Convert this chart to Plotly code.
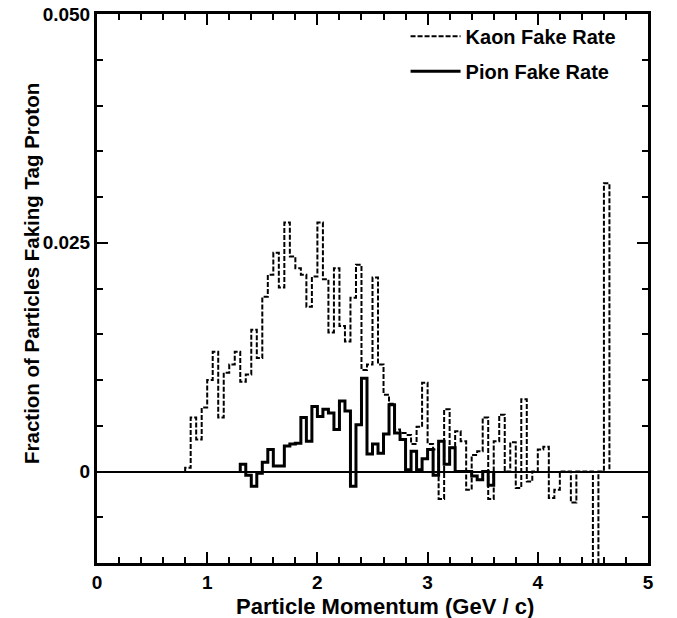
import plotly.graph_objects as go

# Histogram binning (GeV/c)
bin_width = 0.05

# Kaon fake rate: first bin starts at 0.80 GeV/c
kaon_start = 0.80
kaon_vals = [
    0.0004, 0.0059, 0.0035, 0.0070, 0.0100, 0.0131, 0.0059, 0.0108, 0.0117, 0.0131,
    0.0098, 0.0106, 0.0155, 0.0124, 0.0191, 0.0215, 0.0239, 0.0201, 0.0272, 0.0235,
    0.0222, 0.0215, 0.0180, 0.0213, 0.0272, 0.0210, 0.0152, 0.0222, 0.0159, 0.0142,
    0.0190, 0.0226, 0.0111, 0.0117, 0.0212, 0.0117, 0.0084, 0.0074, 0.0046, 0.0042,
    0.0040, 0.0030, 0.0049, 0.0097, 0.0030, 0.0024, -0.0030, 0.0068, 0.0026, 0.0044,
    0.0033, -0.0020, 0.0018, 0.0022, 0.0059, -0.0030, 0.0033, 0.0062, 0.0000, 0.0032,
    -0.0018, 0.0079, -0.0011, 0.0000, 0.0024, 0.0027, -0.0029, -0.0020, 0.0000, 0.0000,
    -0.0034, 0.0000, 0.0000, 0.0000, -0.0160, 0.0000, 0.0315,
]

# Pion fake rate: first bin starts at 1.30 GeV/c
pion_start = 1.30
pion_vals = [
    0.0008, -0.0004, -0.0016, -0.0002, 0.0010, 0.0024, 0.0006, 0.0006, 0.0028, 0.0030,
    0.0031, 0.0059, 0.0033, 0.0071, 0.0060, 0.0068, 0.0064, 0.0046, 0.0077, 0.0066,
    -0.0016, 0.0051, 0.0102, 0.0019, 0.0030, 0.0020, 0.0041, 0.0073, 0.0042, 0.0035,
    0.0002, 0.0022, 0.0002, 0.0014, 0.0024, -0.0004, 0.0033, 0.0008, 0.0026, 0.0000,
    0.0000, 0.0000, -0.0005, -0.0009, 0.0000, -0.0015,
]

x_tick_vals = [0, 1, 2, 3, 4, 5]
y_tick_vals = [0.0, 0.025, 0.05]
y_tick_text = ["0", "0.025", "0.050"]
x_title = "Particle Momentum (GeV / c)"
y_title = "Fraction of Particles Faking Tag Proton"


def step_xy(start, vals):
    edges = [round(start + i * bin_width, 4) for i in range(len(vals) + 1)]
    xs = [edges[0]] + edges[:-1] + [edges[-1]]
    ys = [0.0] + list(vals) + [0.0]
    return xs, ys


FONT = "Liberation Sans"

fig = go.Figure()
kx, ky = step_xy(kaon_start, kaon_vals)
px, py = step_xy(pion_start, pion_vals)

fig.add_trace(go.Scatter(
    x=kx, y=ky, mode="lines", line_shape="hv", name="Kaon Fake Rate",
    legendgroup="k",
    line=dict(color="black", width=2, dash="5px,2px"),
))
fig.add_trace(go.Scatter(
    x=px, y=py, mode="lines", line_shape="hv", name="Pion Fake Rate",
    legendgroup="p",
    line=dict(color="black", width=3),
))

fig.update_layout(
    width=677, height=618,
    margin=dict(l=97, r=29, t=14, b=55, autoexpand=False),
    paper_bgcolor="white", plot_bgcolor="white",
    font=dict(family=FONT, size=18, color="black", weight="bold"),
    showlegend=True,
    legend=dict(
        x=0.56, y=0.995, xanchor="left", yanchor="top",
        bgcolor="rgba(0,0,0,0)", borderwidth=0,
        font=dict(family=FONT, size=20, color="black", weight="bold"),
        tracegroupgap=6, traceorder="grouped", itemwidth=50,
    ),
    annotations=[
        dict(text=x_title, xref="paper", yref="paper",
             x=(385 - 97) / 551, y=-(606 - 563) / 549,
             xanchor="center", yanchor="middle", showarrow=False, borderpad=0,
             font=dict(family=FONT, size=22, color="black", weight="bold")),
        dict(text=y_title, xref="paper", yref="paper",
             x=-(97 - 31) / 551, y=(563 - 274) / 549, textangle=-90,
             xanchor="center", yanchor="middle", showarrow=False,
             font=dict(family=FONT, size=20.5, color="black", weight="bold")),
    ],
)

fig.update_xaxes(
    range=[0, 5], tickmode="array", tickvals=x_tick_vals,
    ticks="inside", ticklen=11, tickwidth=2, tickcolor="black",
    showline=True, linewidth=3, linecolor="black", mirror="ticks",
    showgrid=False, zeroline=False, automargin=False,
    minor=dict(tickmode="linear", tick0=0, dtick=0.2, ticks="inside",
               ticklen=6, tickwidth=2, tickcolor="black", showgrid=False),
    tickfont=dict(family=FONT, size=19, color="black", weight="bold"),
    ticklabelstandoff=0,
)

fig.update_yaxes(
    range=[-0.01, 0.05], tickmode="array", tickvals=y_tick_vals, ticktext=y_tick_text,
    ticks="inside", ticklen=11, tickwidth=2, tickcolor="black",
    showline=True, linewidth=3, linecolor="black", mirror="ticks",
    showgrid=False, automargin=False,
    zeroline=True, zerolinecolor="black", zerolinewidth=2,
    minor=dict(tickmode="linear", tick0=0, dtick=0.005, ticks="inside",
               ticklen=6, tickwidth=2, tickcolor="black", showgrid=False),
    tickfont=dict(family=FONT, size=19, color="black", weight="bold"),
)

fig.write_html("out.html")
